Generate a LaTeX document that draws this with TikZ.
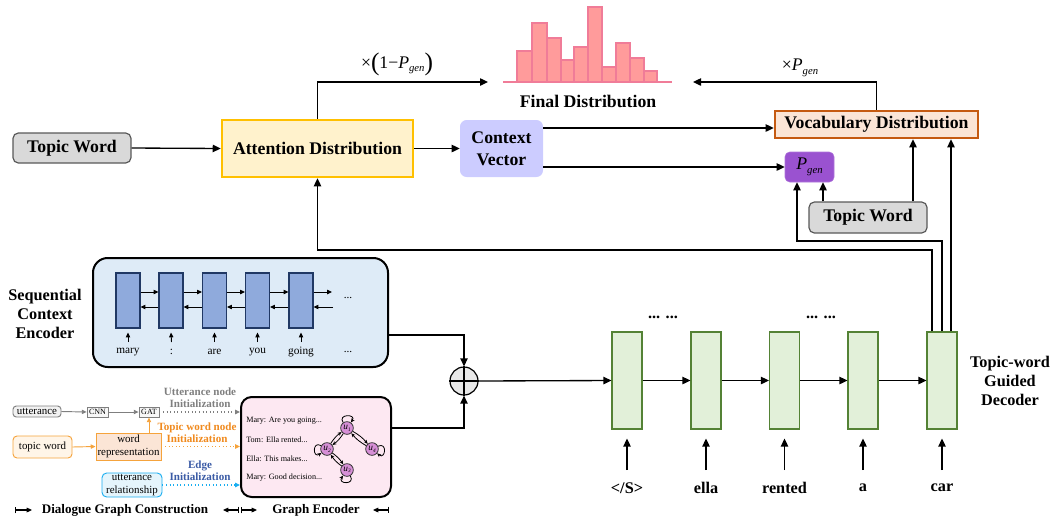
\documentclass[tikz,border=0pt]{standalone}
\usepackage{fontspec}
\setmainfont{Liberation Serif}
\usetikzlibrary{arrows.meta,calc}
\definecolor{twfill}{HTML}{D9D9D9}
\definecolor{twdraw}{HTML}{595959}
\definecolor{attfill}{HTML}{FFF2CC}
\definecolor{attdraw}{HTML}{FFC000}
\definecolor{ctxfill}{HTML}{CCCCFF}
\definecolor{vocfill}{HTML}{FBE5D6}
\definecolor{vocdraw}{HTML}{C55A11}
\definecolor{pgenfill}{HTML}{9A52D0}
\definecolor{encfill}{HTML}{DEEBF7}
\definecolor{cellfill}{HTML}{8FAADC}
\definecolor{celldraw}{HTML}{203864}
\definecolor{decfill}{HTML}{E2F0D9}
\definecolor{decdraw}{HTML}{548235}
\definecolor{gefill}{HTML}{FDE8F2}
\definecolor{ufill}{HTML}{D68FD6}
\definecolor{barfill}{HTML}{FF9B9B}
\definecolor{bardraw}{HTML}{F07C98}
\definecolor{gtxt}{HTML}{7F7F7F}
\definecolor{otxt}{HTML}{F08A1E}
\definecolor{odraw}{HTML}{F5A33C}
\definecolor{ofill}{HTML}{FFF5E8}
\definecolor{btxt}{HTML}{3B5BA5}
\definecolor{bdraw}{HTML}{1AAEF0}
\definecolor{bfill}{HTML}{E5F5FC}
\newcommand\bigf{\fontsize{13.3}{16.5}\selectfont\bfseries}
\newcommand\midf{\fontsize{12.2}{14.2}\selectfont\bfseries}
\newcommand\pgen{\textit{P}\raisebox{-0.45ex}{\fontsize{8}{8}\selectfont\textit{gen}}}
\begin{document}
\begin{tikzpicture}[x=0.75pt,y=-0.75pt,
  arr/.style={line width=1pt,-{Triangle[length=6pt,width=5.5pt]}},
  sarr/.style={line width=0.7pt,-{Triangle[length=3.6pt,width=3.2pt]}},
  topicw/.style={draw=twdraw,fill=twfill,line width=0.9pt,rounded corners=4pt,minimum width=88.5pt,inner sep=0pt,font=\bigf},
  enccell/.style={draw=celldraw,fill=cellfill,line width=0.8pt,minimum width=18pt,minimum height=41.25pt,inner sep=0pt},
  deccell/.style={draw=decdraw,fill=decfill,line width=0.8pt,minimum width=22.5pt,minimum height=72.75pt,inner sep=0pt},
  encword/.style={font=\fontsize{8.5}{10}\selectfont,inner sep=1pt},
  decword/.style={font=\midf,inner sep=1pt},
  bar/.style={draw=bardraw,fill=barfill,line width=1.1pt},
  unode/.style={circle,draw=black!80,fill=ufill,line width=0.6pt,minimum size=9.5pt,inner sep=0pt,font=\fontsize{7}{7}\selectfont\itshape},
  uedge/.style={line width=0.6pt,-{Stealth[length=3pt,width=2.6pt]}},
  small/.style={font=\fontsize{8.2}{9.5}\selectfont,inner sep=0pt,align=center},
  lbl/.style={font=\fontsize{8.3}{9.3}\selectfont\bfseries,align=center,inner sep=0pt}
]
\useasboundingbox (0,0) rectangle (1056,522);

% ---------- top part ----------
\node[topicw,minimum height=22.5pt] (tw1) at (72,148) {Topic Word};
\node[draw=attdraw,fill=attfill,line width=1.9pt,minimum width=143.25pt,minimum height=42.75pt,inner sep=0pt,font=\bigf] (att) at (317.5,148.5) {Attention Distribution};
\node[fill=ctxfill,rounded corners=5pt,minimum width=62.25pt,minimum height=42.75pt,inner sep=0pt,align=center,font=\bigf] (ctx) at (501.5,148.5) {Context\\Vector};
\node[draw=vocdraw,fill=vocfill,line width=1.9pt,minimum width=152.25pt,minimum height=20.25pt,inner sep=0pt,font=\bigf] (voc) at (876.5,124.5) {Vocabulary Distribution};
\node[fill=pgenfill,draw=pgenfill!80,rounded corners=3.5pt,minimum width=36.75pt,minimum height=22.5pt,inner sep=0pt,font=\fontsize{13.3}{14}\selectfont] (pg) at (809.5,167) {\pgen};
\node[topicw,minimum height=23.25pt] (tw2) at (868,217.5) {Topic Word};

\draw[arr] (tw1.east) -- (att.west);
\draw[arr] (att.east) -- (ctx.west);
\coordinate (cy1) at (0,128);
\draw[arr] (ctx.east |- cy1) -- (voc.west |- cy1);
\draw[arr] (ctx.east |- pg.west) -- (pg.west);

% final distribution
\foreach \l/\r/\t in {517/532/51,532/547/23,547/561/38,561/574/60,574/588/47,588/602/7,602/616/67,616/630/43,630/644/58,644/657/71}
  \draw[bar] (\l,82) rectangle (\r,\t);
\draw[draw=bardraw,line width=1.1pt] (503,82) -- (672,82);
\node[font=\bigf,inner sep=0pt] (fd) at (588,101) {Final Distribution};
\coordinate (hl) at (488,82);
\coordinate (hr) at (693,82);
\draw[arr] (att.north) |- (hl);
\draw[arr] (voc.north) |- (hr);
\node[font=\fontsize{13.3}{14}\selectfont,inner sep=0pt] (m1) at (397,64) {×\raisebox{-0.25ex}{\fontsize{19}{19}\selectfont(}1−\pgen\raisebox{-0.25ex}{\fontsize{19}{19}\selectfont)}};
\node[font=\fontsize{13.3}{14}\selectfont,inner sep=0pt] (m2) at (800,68) {×\pgen};

% decoder
\foreach \i/\x in {1/627,2/706,3/784.5,4/863,5/942}
  \node[deccell] (d\i) at (\x,380.5) {};
\foreach \i/\j in {1/2,2/3,3/4,4/5}
  \draw[arr] (d\i.east) -- (d\j.west);
\node[font=\midf,inner sep=0pt] (dd1) at (663,317) {... ...};
\node[font=\midf,inner sep=0pt] (dd2) at (821,317) {... ...};
\coordinate (ty) at (0,470);
\foreach \i/\x/\w in {1/627/{</S>},2/706/ella,3/784.5/rented,4/863/a,5/942/car}{
  \node[decword] (o\i) at (\x,488) {\w};
  \draw[arr] (o\i |- ty) -- ([yshift=-6.75pt]d\i.south);
}
\node[font=\midf,align=center,inner sep=0pt] (declbl) at (1010,381) {Topic-word\\Guided\\Decoder};

% connections from decoder
\coordinate (j1) at (932,250);
\coordinate (j2) at (942,241);
\coordinate (j2b) at (797,241);
\coordinate (k3) at (951,0);
\coordinate (k4) at (823,0);
\coordinate (k5) at (913,0);
\draw[arr] (j1 |- d5.north) -- (j1) -| (att.south);
\draw[arr] (j2 |- d5.north) -- (j2) -- (j2b) -- (j2b |- pg.south);
\draw[arr] (k3 |- d5.north) -- (k3 |- voc.south);
\draw[arr] (k4 |- tw2.north) -- (k4 |- pg.south);
\draw[arr] (k5 |- tw2.north) -- (k5 |- voc.south);

% ---------- sequential encoder ----------
\node[draw=black,fill=encfill,line width=1.5pt,rounded corners=11pt,minimum width=221.25pt,minimum height=81.75pt,inner sep=0pt] (enc) at (240.5,312.5) {};
\node[font=\midf,align=center,inner sep=0pt] (enclbl) at (45,314) {Sequential\\Context\\Encoder};
\foreach \i/\x in {1/128,2/171,3/214.5,4/257.5,5/301}
  \node[enccell] (e\i) at (\x,300.5) {};
\coordinate (fy) at (0,292);
\coordinate (by) at (0,307);
\foreach \i/\j in {1/2,2/3,3/4,4/5}{
  \draw[sarr] (e\i.east |- fy) -- (e\j.west |- fy);
  \draw[sarr] (e\j.west |- by) -- (e\i.east |- by);
}
\coordinate (ef) at (332,292);
\coordinate (eb) at (333,307);
\draw[sarr] (e5.east |- fy) -- (ef);
\draw[sarr] (eb) -- (e5.east |- by);
\node[encword] (edots) at (348,298) {...};
\coordinate (wy) at (0,342);
\foreach \i/\x/\w in {1/128/mary,2/171.5/:,3/214.5/are,4/257.5/you,5/301/going}{
  \node[encword] (w\i) at (\x,352) {\w};
  \draw[sarr] (w\i |- wy) -- ([yshift=-3pt]e\i.south);
}
\node[encword] (w6) at (348,352) {...};

% plus
\node[circle,draw=black,fill=black!9,line width=0.9pt,minimum size=21pt,inner sep=0pt] (plus) at (464,381) {};
\draw[line width=1.4pt] (plus.north) -- (plus.south) (plus.west) -- (plus.east);
\coordinate (py1) at (0,335);
\coordinate (py2) at (0,428);
\draw[arr] (enc.east |- py1) -| (plus.north);
\draw[arr] (plus.east) -- (d1.west);

% ---------- graph construction ----------
\node[draw=gtxt,fill=black!5,line width=0.7pt,rounded corners=2.5pt,minimum width=36pt,minimum height=8.25pt,small] (utt) at (37,411.5) {utterance};
\node[draw=gtxt,fill=black!3,line width=0.6pt,minimum width=15.75pt,minimum height=7.5pt,inner sep=0pt,font=\fontsize{6}{6}\selectfont] (cnn) at (97.5,412) {CNN};
\node[draw=gtxt,fill=black!3,line width=0.6pt,minimum width=15pt,minimum height=7.5pt,inner sep=0pt,font=\fontsize{6}{6}\selectfont] (gat) at (149,412) {GAT};
\draw[sarr,draw=gtxt] (utt.east) -- (cnn.west);
\draw[sarr,draw=gtxt] (cnn.east) -- (gat.west);

\node[draw=odraw,fill=ofill,line width=0.7pt,rounded corners=3pt,minimum width=44.25pt,minimum height=16.5pt,small] (twd) at (42.5,447) {topic word};
\node[draw=odraw,fill=vocfill,line width=0.7pt,minimum width=48.75pt,minimum height=20.25pt,small] (wr) at (128.5,446.5) {word\\representation};
\draw[sarr,draw=odraw] (twd.east) -- (wr.west);
\draw[sarr,draw=odraw] (gat.south |- wr.north) -- (gat.south);

\node[draw=bdraw,fill=bfill,line width=0.7pt,rounded corners=3.5pt,minimum width=45pt,minimum height=18pt,small] (rel) at (132,485) {utterance\\relationship};

\node[draw=black,fill=gefill,line width=1.5pt,rounded corners=8pt,minimum width=112.5pt,minimum height=75pt,inner sep=0pt] (ge) at (316,447) {};
\draw[sarr,draw=gtxt,dotted,line width=0.9pt] (gat.east) -- (ge.west |- gat.east);
\draw[sarr,draw=odraw,dotted,line width=0.9pt] (wr.east) -- (ge.west |- wr.east);
\draw[sarr,draw=bdraw,dotted,line width=0.9pt] (rel.east) -- (ge.west |- rel.east);
\draw[arr] (ge.east |- py2) -| (plus.south);

\node[lbl,text=gtxt] (l1) at (200,398) {Utterance node\\Initialization};
\node[lbl,text=otxt] (l2) at (197,433) {Topic word node\\Initialization};
\node[lbl,text=btxt] (l3) at (200,471) {Edge\\Initialization};

\foreach \i/\y/\t in {1/421/{Mary: Are you going...},2/440/{Tom: Ella rented...},3/459/{Ella: This makes...},4/478/{Mary: Good decision...}}
  \node[anchor=west,inner sep=0pt,font=\fontsize{6.1}{7}\selectfont] (g\i) at (246,\y) {\t};

\node[unode] (u1) at (347,428) {u\raisebox{-0.4ex}{\fontsize{4}{4}\selectfont 1}};
\node[unode] (u2) at (327,449) {u\raisebox{-0.4ex}{\fontsize{4}{4}\selectfont 2}};
\node[unode] (u4) at (372,449) {u\raisebox{-0.4ex}{\fontsize{4}{4}\selectfont 4}};
\node[unode] (u3) at (347,470) {u\raisebox{-0.4ex}{\fontsize{4}{4}\selectfont 3}};
\foreach \a/\b in {u1/u2,u2/u1,u1/u4,u4/u1,u2/u3,u3/u2}
  \draw[uedge] (\a) to[bend left=10] (\b);
\draw[uedge] (u1.125) to[out=125,in=55,distance=8pt] (u1.55);
\draw[uedge] (u2.150) to[out=150,in=215,distance=8pt] (u2.215);
\draw[uedge] (u4.25) to[out=25,in=-40,distance=8pt] (u4.-40);
\draw[uedge] (u3.-60) to[out=-60,in=-125,distance=8pt] (u3.-125);

% legend
\node[font=\fontsize{9.8}{11}\selectfont\bfseries,inner sep=0pt] (lg1) at (125,510) {Dialogue Graph Construction};
\node[font=\fontsize{9.8}{11}\selectfont\bfseries,inner sep=0pt] (lg2) at (316,510) {Graph Encoder};
\coordinate (a1) at (15,510); \coordinate (a2) at (32,510);
\coordinate (a3) at (223,510); \coordinate (a4) at (239,510);
\coordinate (a5) at (241,510); \coordinate (a6) at (257,510);
\coordinate (a7) at (373,510); \coordinate (a8) at (389,510);
\draw[line width=0.8pt,{Bar[width=5pt]}-{Triangle[length=4pt,width=3.5pt]}] (a1) -- (a2);
\draw[line width=0.8pt,{Triangle[length=4pt,width=3.5pt]}-{Bar[width=5pt]}] (a3) -- (a4);
\draw[line width=0.8pt,{Bar[width=5pt]}-{Triangle[length=4pt,width=3.5pt]}] (a5) -- (a6);
\draw[line width=0.8pt,{Triangle[length=4pt,width=3.5pt]}-{Bar[width=5pt]}] (a7) -- (a8);
\end{tikzpicture}
\end{document}
